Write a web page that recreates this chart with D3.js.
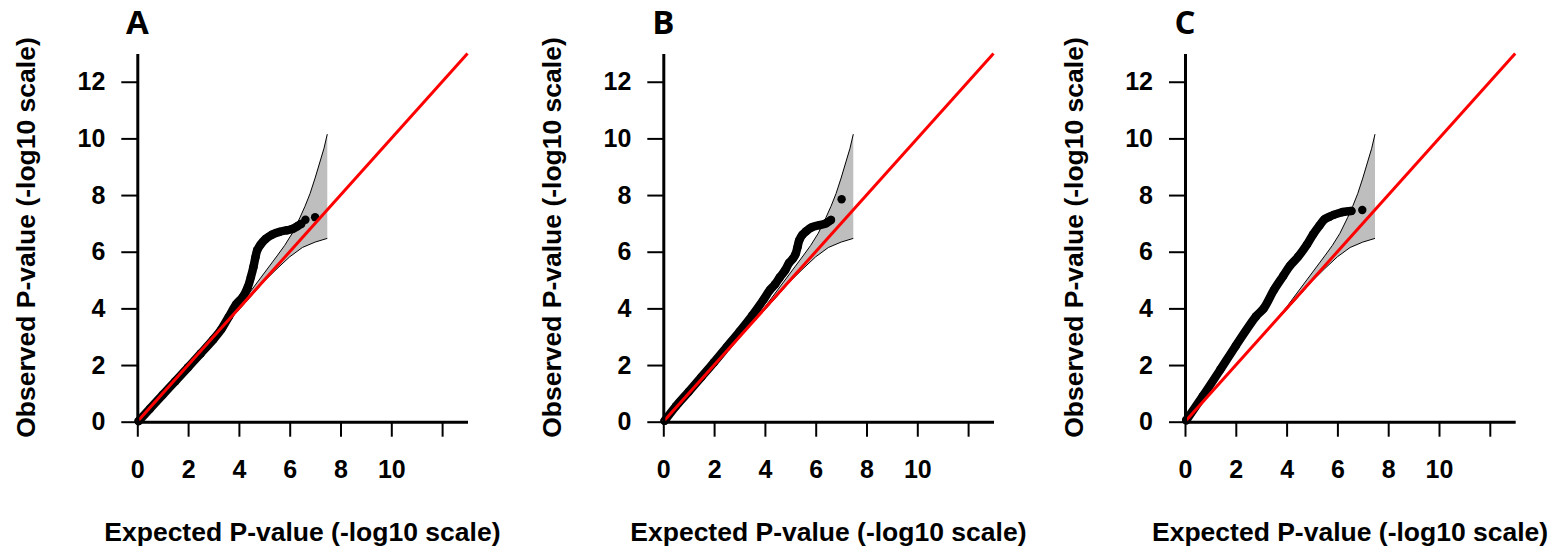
<!DOCTYPE html>
<html>
<head>
<meta charset="utf-8">
<script src="https://cdn.jsdelivr.net/npm/d3@7"></script>
<style>
  body { margin: 0; background: #fff; }
  text { font-family: "Liberation Sans", Arial, sans-serif; font-weight: bold; }
</style>
</head>
<body>
<svg class="chart"></svg>
<script>
// panel labels and axis ticks
const panelLabels = ["A", "B", "C"];
const xTicks = [0, 2, 4, 6, 8, 10, 12];
const yTicks = [0, 2, 4, 6, 8, 10, 12];
const labelledXTicks = [0, 2, 4, 6, 8, 10];
const refLine = [0, 13];

// confidence band (same for every panel): [expected, observed]
const bandUpper = [[3.5, 3.52], [4, 4.05], [4.5, 4.65], [5, 5.25], [5.5, 5.85], [5.8, 6.22],
  [6.1, 6.65], [6.4, 7.2], [6.6, 7.6], [6.8, 8.05], [7.0, 8.6], [7.2, 9.2], [7.35, 9.65], [7.48, 10.15]];
const bandLower = [[3.5, 3.48], [4, 3.95], [4.5, 4.45], [5, 4.96], [5.5, 5.4], [6, 5.82],
  [6.5, 6.15], [7, 6.34], [7.48, 6.47]];

// observed QQ series: [expected, observed]
const qqA = [[0.05, 0.02], [0.5, 0.46], [1, 0.95], [1.5, 1.43], [2, 1.92], [2.5, 2.41], [3, 2.91],
  [3.3, 3.25], [3.6, 3.7], [3.9, 4.15], [4.15, 4.4], [4.35, 4.75], [4.47, 5.1], [4.57, 5.45],
  [4.65, 5.8], [4.72, 6.05], [4.85, 6.25], [5.05, 6.45], [5.3, 6.6], [5.6, 6.7], [5.9, 6.76],
  [6.1, 6.8], [6.3, 6.9], [6.45, 6.98]];
const tailA = [[6.62, 7.13], [7.0, 7.22]];

const qqB = [[0.05, 0.03], [0.5, 0.55], [1, 1.06], [1.5, 1.58], [2, 2.1], [2.5, 2.64], [3, 3.18],
  [3.5, 3.75], [3.94, 4.3], [4.2, 4.65], [4.4, 4.85], [4.59, 5.1], [4.8, 5.35], [4.95, 5.6],
  [5.1, 5.75], [5.2, 5.9], [5.28, 6.15], [5.35, 6.4], [5.48, 6.6], [5.62, 6.72], [5.84, 6.86],
  [6.15, 6.94], [6.4, 7.0], [6.6, 7.12]];
const tailB = [[7.02, 7.85]];

const qqC = [[0.05, 0.05], [0.7, 0.9], [1.4, 1.85], [2, 2.68], [2.8, 3.72], [3.1, 4.0], [3.5, 4.65],
  [3.87, 5.15], [4.13, 5.5], [4.45, 5.82], [4.8, 6.25], [5.05, 6.62], [5.3, 6.93], [5.5, 7.15],
  [5.7, 7.24], [5.85, 7.3], [6.2, 7.4], [6.55, 7.44]];
const tailC = [[6.98, 7.47]];

const series = [qqA, qqB, qqC];
const tails = [tailA, tailB, tailC];

const W = 1553, H = 553;
const originsX = [137.3, 663.3, 1185];
const y0 = 421.7;
const unitX = 25.4, unitY = 28.33;

const svg = d3.select(".chart").attr("width", W).attr("height", H);

panelLabels.forEach((lab, i) => {
  const ox = originsX[i];
  const x = d3.scaleLinear().domain([0, 13]).range([ox, ox + 13 * unitX]);
  const y = d3.scaleLinear().domain([0, 13]).range([y0, y0 - 13 * unitY]);
  const g = svg.append("g");

  // confidence band
  const poly = bandUpper.concat(bandLower.slice().reverse());
  g.append("path")
    .attr("d", d3.line().x(d => x(d[0])).y(d => y(d[1]))(poly) + "Z")
    .attr("fill", "#bebebe");
  [bandUpper, bandLower].forEach(b => {
    g.append("path")
      .attr("d", d3.line().x(d => x(d[0])).y(d => y(d[1]))(b))
      .attr("fill", "none").attr("stroke", "#000").attr("stroke-width", 1);
  });

  // observed points
  const pts = series[i];
  g.append("path")
    .attr("d", d3.line().x(d => x(d[0])).y(d => y(d[1])).curve(d3.curveCatmullRom)(pts))
    .attr("fill", "none").attr("stroke", "#000").attr("stroke-width", 8.5)
    .attr("stroke-linecap", "round").attr("stroke-linejoin", "round");
  g.selectAll(".pt").data(pts.concat(tails[i])).enter().append("circle")
    .attr("cx", d => x(d[0])).attr("cy", d => y(d[1])).attr("r", 4.2).attr("fill", "#000");

  // reference line
  g.append("line")
    .attr("x1", x(refLine[0])).attr("y1", y(refLine[0]))
    .attr("x2", x(refLine[1])).attr("y2", y(refLine[1]))
    .attr("stroke", "#ff0000").attr("stroke-width", 3);

  // axes
  const ax = g.append("g").attr("transform", `translate(0,${y0})`)
    .call(d3.axisBottom(x).tickValues(xTicks).tickSize(15).tickSizeOuter(0).tickPadding(24)
      .tickFormat(d => labelledXTicks.includes(d) ? d : ""));
  const ay = g.append("g").attr("transform", `translate(${ox},0)`)
    .call(d3.axisLeft(y).tickValues(yTicks).tickSize(16).tickSizeOuter(0).tickPadding(16));
  [ax, ay].forEach(a => {
    a.select(".domain").attr("stroke", "#000").attr("stroke-width", 3);
    a.selectAll(".tick line").attr("stroke", "#000").attr("stroke-width", 2);
    a.selectAll(".tick text").attr("fill", "#000").style("font-size", "25px")
      .style("font-family", "Liberation Sans, Arial, sans-serif").style("font-weight", "bold");
  });

  // titles
  g.append("text")
    .attr("x", x(6.5)).attr("y", 541)
    .attr("text-anchor", "middle").style("font-size", "26.5px")
    .text("Expected P-value (-log10 scale)");
  g.append("text")
    .attr("transform", `translate(${ox - 102},${y(6.5)}) rotate(-90)`)
    .attr("text-anchor", "middle").style("font-size", "26.5px")
    .text("Observed P-value (-log10 scale)");
  g.append("text")
    .attr("x", ox).attr("y", 34)
    .attr("text-anchor", "middle")
    .style("font-family", "Open Sans, sans-serif").style("font-size", "33px")
    .text(lab);
});
</script>
</body>
</html>
